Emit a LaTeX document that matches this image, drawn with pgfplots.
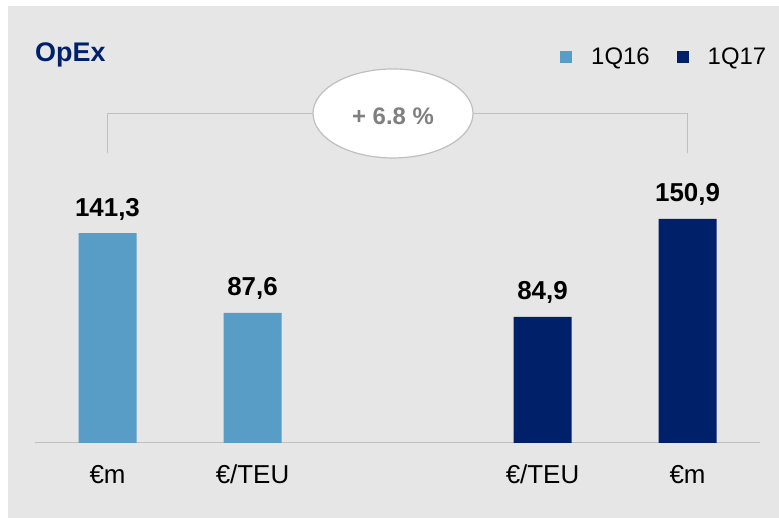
\documentclass[border=0pt]{standalone}
\usepackage{pgfplots}
\pgfplotsset{compat=1.18}
\usepackage{fontspec}
\setmainfont{Liberation Sans}
\definecolor{bg}{HTML}{E6E6E6}
\definecolor{lblue}{HTML}{579DC6}
\definecolor{navy}{HTML}{00216A}
\definecolor{brk}{HTML}{BFBFBF}
\definecolor{pct}{HTML}{7F7F7F}
\begin{document}
\begin{tikzpicture}[x=1bp,y=1bp]
\useasboundingbox (0,0) rectangle (779,518);
\fill[white] (-30,-30) rectangle (809,548);
\fill[bg] (8,-30) rectangle (809,512);
\node[anchor=base west, inner sep=0pt, text=navy, font=\fontsize{27}{30}\selectfont\bfseries] at (35,456) {OpEx};
\begin{axis}[
  at={(35bp,75bp)}, anchor=south west, scale only axis,
  width=725bp, height=371.25bp,
  xmin=-0.5, xmax=4.5, ymin=0, ymax=250,
  hide y axis,
  axis x line*=bottom,
  x axis line style={draw=brk, line width=1bp, -},
  xtick style={draw=none},
  major tick length=0pt,
  ybar, bar width=58bp, bar shift=0pt,
  xtick={0,1,3,4}, xticklabels={€m,€/TEU,€/TEU,€m},
  xticklabel style={font=\fontsize{26}{30}\selectfont, anchor=base, yshift=-41bp, text=black},
  /pgf/number format/use comma,
  /pgf/number format/fixed,
  /pgf/number format/fixed zerofill,
  /pgf/number format/precision=1,
  /pgf/number format/assume math mode=true,
  nodes near coords,
  nodes near coords style={font=\fontsize{26}{30}\selectfont\bfseries, anchor=base, yshift=17bp, inner sep=0pt, text=black},
  clip=false,
  legend columns=2,
  legend style={at={(0.7242,1.0397)}, anchor=west, draw=none, fill=none, inner sep=0pt,
    font=\fontsize{24}{28}\selectfont,
    /tikz/every even column/.append style={column sep=25bp}},
  every axis plot post/.append style={legend image code/.code={\fill[##1] (0bp,-6bp) rectangle (12bp,6bp); \path[draw=none, fill=none] (0bp,0bp) (29bp,0bp);}},
]
\addplot[fill=lblue, draw=none] coordinates {(0,141.3) (1,87.6)};
\addplot[fill=navy, draw=none] coordinates {(3,84.9) (4,150.9)};
\legend{1Q16,1Q17}
\draw[brk, line width=1bp] (axis cs:0,195.3) -- (axis cs:0,222.2) -- (axis cs:4,222.2) -- (axis cs:4,195.3);
\draw[brk, line width=1.2bp, fill=white] (axis cs:1.969,221.9) ellipse [x radius=80bp, y radius=44.5bp];
\node[anchor=base, inner sep=0pt, text=pct, font=\fontsize{24}{28}\selectfont\bfseries] at (axis cs:1.969,214.8) {+ 6.8 \%};
\end{axis}
\end{tikzpicture}
\end{document}
